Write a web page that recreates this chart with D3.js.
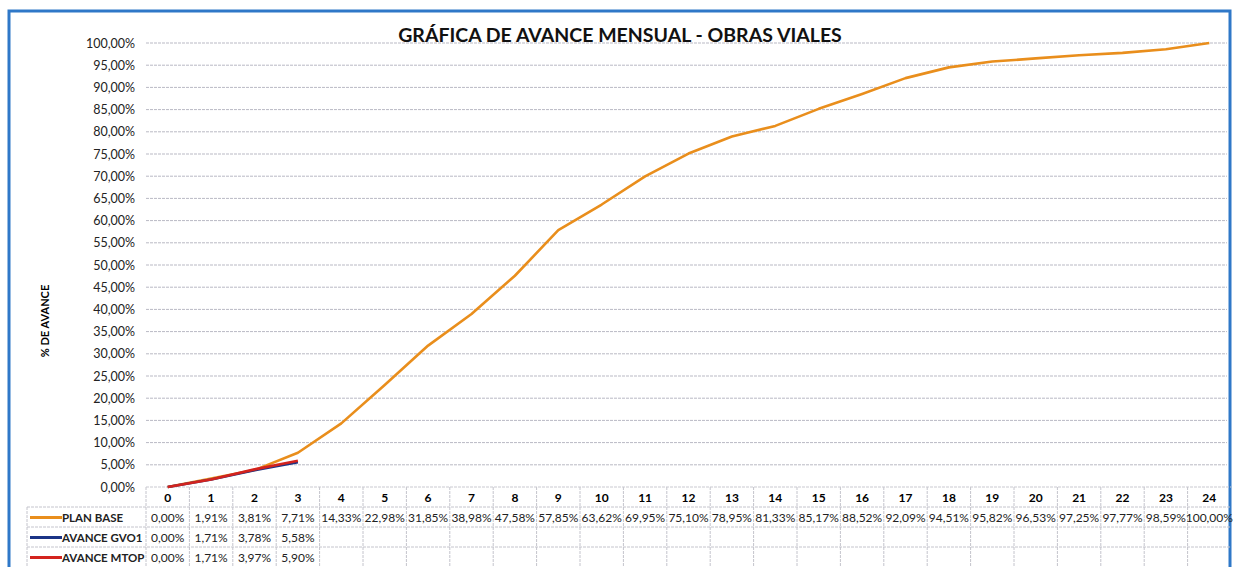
<!DOCTYPE html>
<meta charset="utf-8">
<style>
  body { margin: 0; background: #fff; }
  text { font-family: Lato, "Open Sans", sans-serif; }
</style>
<svg id="chart" width="1239" height="567"></svg>
<script src="https://d3js.org/d3.v7.min.js"></script>
<script>

// data
var months = d3.range(0, 25).map(String);
var planBase = [0, 1.91, 3.81, 7.71, 14.33, 22.98, 31.85, 38.98, 47.58, 57.85, 63.62, 69.95, 75.10,
                78.95, 81.33, 85.17, 88.52, 92.09, 94.51, 95.82, 96.53, 97.25, 97.77, 98.59, 100];
var avanceGvo1 = [0, 1.71, 3.78, 5.58];
var avanceMtop = [0, 1.71, 3.97, 5.90];
var yTicks = d3.range(0, 101, 5);

var series = [
  { name: "PLAN BASE", values: planBase, color: "#E98E1C" },
  { name: "AVANCE GVO1", values: avanceGvo1, color: "#1B3486" },
  { name: "AVANCE MTOP", values: avanceMtop, color: "#D3231E" }
];

var es = d3.formatLocale({ decimal: ",", thousands: ".", grouping: [3], currency: ["", ""] });
var pct = function(v) { return es.format(".2f")(v) + "%"; };

var svg = d3.select("#chart");

// frame
svg.append("rect")
  .attr("x", 9).attr("y", 11).attr("width", 1221).attr("height", 570)
  .attr("fill", "none").attr("stroke", "#2F78C8").attr("stroke-width", 3);

var x = d3.scaleBand().domain(months).range([146, 1231]).padding(0);
var y = d3.scaleLinear().domain([0, 100]).range([487, 43]);
var cx = function(i) { return x(months[i]) + x.bandwidth() / 2; };

// gridlines
svg.append("g").selectAll("line")
  .data(yTicks.filter(function(t) { return t > 0; }))
  .join("line")
    .attr("x1", 146).attr("x2", 1227)
    .attr("y1", function(d) { return y(d); }).attr("y2", function(d) { return y(d); })
    .attr("stroke", "#b9b9c4").attr("stroke-width", 1).attr("stroke-dasharray", "3,1");

// y axis labels
svg.append("g").selectAll("text")
  .data(yTicks)
  .join("text")
    .attr("x", 135).attr("y", function(d) { return y(d) + 4.5; })
    .attr("text-anchor", "end").attr("font-size", 12.5).attr("fill", "#222")
    .text(function(d) { return pct(d); });

svg.append("text")
  .attr("transform", "translate(49,321) rotate(-90)")
  .attr("text-anchor", "middle").attr("font-size", 11).attr("font-weight", "bold")
  .text("% DE AVANCE");

// title
svg.append("text")
  .attr("x", 620).attr("y", 42).attr("text-anchor", "middle")
  .attr("font-size", 19.5).attr("font-weight", "bold").attr("fill", "#111")
  .text("GRÁFICA DE AVANCE MENSUAL - OBRAS VIALES");

// data table
var rowTop = [487, 507, 527, 547, 567];
var table = svg.append("g")
  .attr("stroke", "#c4c4cc").attr("stroke-width", 1).attr("stroke-dasharray", "3,1");
table.selectAll("line.h")
  .data(rowTop.slice(1, 4))
  .join("line").attr("class", "h")
    .attr("x1", 27).attr("x2", 1231)
    .attr("y1", function(d) { return d; }).attr("y2", function(d) { return d; });
table.selectAll("line.v")
  .data(months)
  .join("line").attr("class", "v")
    .attr("x1", function(d) { return x(d); }).attr("x2", function(d) { return x(d); })
    .attr("y1", 487).attr("y2", 567);
table.append("line").attr("x1", 27).attr("x2", 27).attr("y1", 507).attr("y2", 567);
table.append("line").attr("x1", 146).attr("x2", 1231).attr("y1", 487).attr("y2", 487)
  .attr("stroke-dasharray", null).attr("stroke", "#c9c9d0");

svg.append("g").selectAll("text")
  .data(months)
  .join("text")
    .attr("x", function(d) { return x(d) + x.bandwidth() / 2; }).attr("y", 502)
    .attr("text-anchor", "middle").attr("font-size", 12).attr("font-weight", "bold")
    .text(function(d) { return d; });

series.forEach(function(s, r) {
  var yy = rowTop[r + 1] + 14.5;
  svg.append("line")
    .attr("x1", 30).attr("x2", 62).attr("y1", yy - 4).attr("y2", yy - 4)
    .attr("stroke", s.color).attr("stroke-width", 3);
  svg.append("text")
    .attr("x", 62).attr("y", yy).attr("font-size", 11.5).attr("font-weight", "bold")
    .attr("fill", "#222").text(s.name);
  svg.append("g").selectAll("text")
    .data(s.values)
    .join("text")
      .attr("x", function(d, i) { return cx(i); }).attr("y", yy)
      .attr("text-anchor", "middle").attr("font-size", 12).attr("fill", "#222")
      .text(function(d) { return pct(d); });
});

// lines
var line = d3.line()
  .x(function(d, i) { return cx(i); })
  .y(function(d) { return y(d); });

series.forEach(function(s) {
  svg.append("path")
    .datum(s.values)
    .attr("d", line)
    .attr("fill", "none").attr("stroke", s.color)
    .attr("stroke-width", 2.6).attr("stroke-linejoin", "round");
});

</script>
